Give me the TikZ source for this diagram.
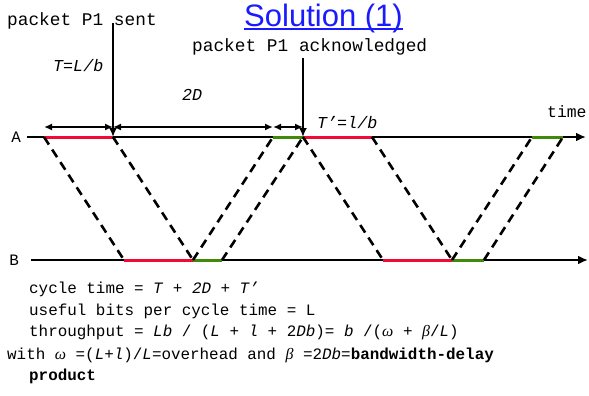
\documentclass[tikz,border=0pt]{standalone}
\usepackage{fontspec}
\setmainfont{Liberation Sans}
\setmonofont{Liberation Mono}
\newfontfamily\greekserif{Liberation Serif}
\usetikzlibrary{arrows.meta,positioning}
\definecolor{sendred}{HTML}{F00A35}
\definecolor{ackgreen}{HTML}{3F8A06}
\definecolor{titleblue}{HTML}{1A1AFF}
\newcommand\grk[1]{{\greekserif\itshape #1}}
\newcommand\ulbox[1]{\setbox0\hbox{#1}\rlap{\rule[-3.5pt]{\wd0}{2pt}}\box0}
\tikzset{
  axis/.style={line width=2.8pt,-{Latex[length=10pt,width=9pt]}},
  busy/.style={line width=3pt},
  prop/.style={line width=2.6pt,dash pattern=on 9pt off 6pt},
  span/.style={line width=2.3pt,{Latex[length=8pt,width=7pt]}-{Latex[length=8pt,width=7pt]}},
  pointer/.style={line width=2.6pt,-{Latex[length=9pt,width=8pt]}},
  lbl/.style={font=\ttfamily\fontsize{17.8}{20}\selectfont,inner sep=0pt,anchor=base west},
  slbl/.style={font=\ttfamily\itshape\fontsize{16.7}{19}\selectfont,inner sep=0pt,anchor=base west},
  txt/.style={font=\ttfamily\fontsize{15.9}{18}\selectfont,inner sep=0pt,anchor=base west},
}
\begin{document}
\begin{tikzpicture}[x=1pt,y=-1pt]
\useasboundingbox (0,0) rectangle (589,396);
\node[font=\fontsize{31}{34}\selectfont,text=titleblue,anchor=base,inner sep=0pt] (title) at (323.5,26.5) {\ulbox{Solution (1)}};
% time axes of A and B
\coordinate (a0) at (27,137);
\coordinate (a1) at (44,137);
\coordinate (a2) at (113,137);
\coordinate (a3) at (273,137);
\coordinate (a4) at (303,137);
\coordinate (a5) at (372,137);
\coordinate (a6) at (532,137);
\coordinate (a7) at (563,137);
\coordinate (aend) at (586,137);
\coordinate (b0) at (31,260);
\coordinate (b1) at (124,260);
\coordinate (b2) at (193,260);
\coordinate (b3) at (222,260);
\coordinate (b4) at (383,260);
\coordinate (b5) at (452,260);
\coordinate (b6) at (484,260);
\coordinate (bend) at (588,260);
\node[txt,anchor=east,left=6pt of a0] (labA) {A};
\node[txt,anchor=east,left=12pt of b0] (labB) {B};
\draw[axis] (a0) -- (aend);
\draw[axis] (b0) -- (bend);
\draw[busy,sendred] (a1) -- (a2);
\draw[busy,ackgreen] (a3) -- (a4);
\draw[busy,sendred] (a4) -- (a5);
\draw[busy,ackgreen] (a6) -- (a7);
\draw[busy,sendred] (b1) -- (b2);
\draw[busy,ackgreen] (b2) -- (b3);
\draw[busy,sendred] (b4) -- (b5);
\draw[busy,ackgreen] (b5) -- (b6);
% propagation
\draw[prop] (a1) -- (b1);
\draw[prop] (a2) -- (b2);
\draw[prop] (b2) -- (a3);
\draw[prop] (b3) -- (a4);
\draw[prop] (a4) -- (b4);
\draw[prop] (a5) -- (b5);
\draw[prop] (b5) -- (a6);
\draw[prop] (b6) -- (a7);
% intervals
\coordinate (s1) at (44,127);
\coordinate (s2) at (113,127);
\coordinate (s3) at (273,127);
\coordinate (s4) at (303,127);
\draw[span] (s1) -- (s2);
\draw[span] (s2) -- (s3);
\draw[span] (s3) -- (s4);
\node[slbl] (tx) at (53,72) {T=L/b};
\node[slbl] (twoD) at (182,100) {2D};
\node[slbl] (tack) at (317,128) {T’=l/b};
% events
\node[lbl] (sent) at (7,26) {packet P1 sent};
\node[lbl] (acked) at (192,52) {packet P1 acknowledged};
\node[lbl,font=\ttfamily\fontsize{16.4}{19}\selectfont] (time) at (547,117) {time};
\coordinate (p1) at (113,23);
\coordinate (p2) at (303,58);
\draw[pointer] (p1) -- (a2);
\draw[pointer] (p2) -- (a4);
% formulas
\node[txt] (cyc) at (29,293) {cycle time = \textit{T} + \textit{2D} + \textit{T’}};
\node[txt] (bits) at (29,315) {useful bits per cycle time = L};
\node[txt] (thr) at (29,336) {throughput = \textit{Lb} / (\textit{L} + \textit{l} + 2\textit{Db})= \textit{b} /(\grk{ω} + \grk{β}/\textit{L})};
\node[txt] (with) at (7,359) {with \grk{ω} =(\textit{L}+\textit{l})/\textit{L}=overhead and \grk{β} =2\textit{Db}=\textbf{bandwidth-delay}};
\node[txt] (prod) at (29,380) {\textbf{product}};
\end{tikzpicture}
\end{document}
